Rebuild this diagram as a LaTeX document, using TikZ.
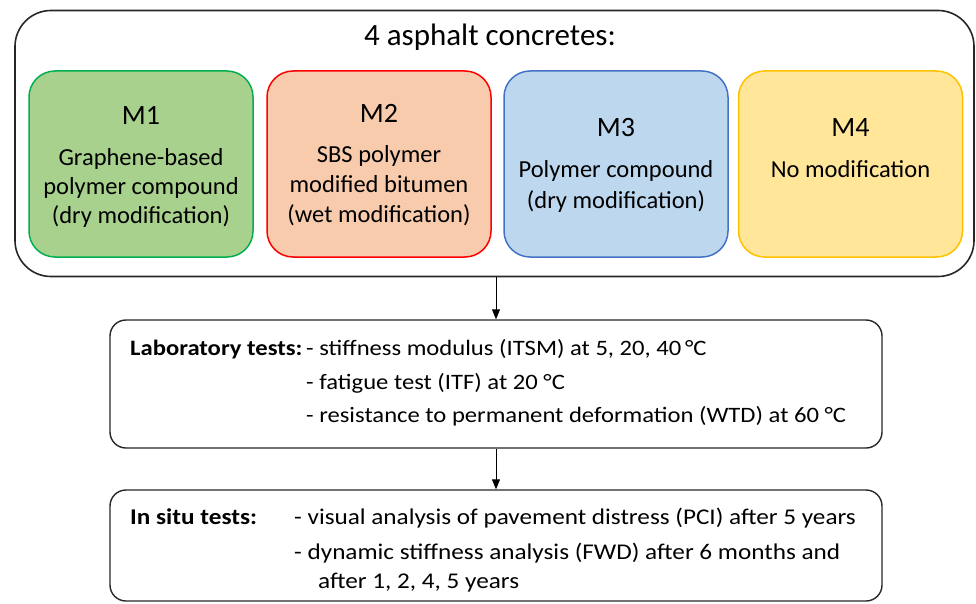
\documentclass[tikz,border=0pt]{standalone}
\usepackage{fontspec}
\setmainfont{Carlito}
\newfontfamily\labfont{Carlito}[FakeStretch=1.12]
\usetikzlibrary{arrows.meta}
\definecolor{gfill}{HTML}{A9D18E}\definecolor{gline}{HTML}{00B050}
\definecolor{rfill}{HTML}{F8CBAD}\definecolor{rline}{HTML}{FF0000}
\definecolor{bfill}{HTML}{BDD7EE}\definecolor{bline}{HTML}{4472C4}
\definecolor{yfill}{HTML}{FFE699}\definecolor{yline}{HTML}{FFC000}
\definecolor{frame}{HTML}{262626}
\begin{document}
\begin{tikzpicture}[x=1pt,y=-1pt,
  outerbox/.style={draw=frame,line width=1.6pt,rounded corners=36pt,inner sep=0pt,minimum width=959pt,minimum height=266pt},
  testbox/.style={draw=frame,line width=1.4pt,rounded corners=16pt,inner sep=0pt,minimum width=772pt},
  mbox/.style={line width=1.5pt,rounded corners=26pt,inner sep=0pt,minimum width=224pt,minimum height=186pt},
  mlabel/.style={anchor=base,inner sep=0pt,font=\fontsize{28}{32}\selectfont},
  mtext/.style={anchor=base,inner sep=0pt,font=\fontsize{24.5}{29}\selectfont},
  ttext/.style={anchor=base west,inner sep=0pt,font=\labfont\fontsize{22}{26}\selectfont},
  stext/.style={anchor=base west,inner sep=0pt,font=\labfont\fontsize{22.5}{26}\selectfont},
  conn/.style={draw=black,line width=0.9pt,-{Triangle[length=10pt,width=8pt]}}
]
\useasboundingbox (0,0) rectangle (976,604);
% outer box
\node[outerbox] (outer) at (494.5,143.5) {};
\node[anchor=base,inner sep=0pt,font=\fontsize{31}{36}\selectfont] (title) at (490,46) {4 asphalt concretes:};
% M boxes
\node[mbox,draw=gline,fill=gfill] (m1) at (141,164) {};
\node[mbox,draw=rline,fill=rfill] (m2) at (379,164) {};
\node[mbox,draw=bline,fill=bfill] (m3) at (616,164) {};
\node[mbox,draw=yline,fill=yfill] (m4) at (850.5,164) {};
% M texts
\node[mlabel] (m1l) at (141,125) {M1};
\node[mtext] (m1a) at (141,166) {Graphene-based};
\node[mtext] (m1b) at (141,194) {polymer compound};
\node[mtext] (m1c) at (141,223) {(dry modification)};
\node[mlabel] (m2l) at (379,123) {M2};
\node[mtext] (m2a) at (379,163) {SBS polymer};
\node[mtext] (m2b) at (379,192) {modified bitumen};
\node[mtext] (m2c) at (379,222) {(wet modification)};
\node[mlabel] (m3l) at (616,137) {M3};
\node[mtext] (m3a) at (616,178) {Polymer compound};
\node[mtext] (m3b) at (616,208) {(dry modification)};
\node[mlabel] (m4l) at (850.5,137) {M4};
\node[mtext] (m4a) at (850.5,178) {No modification};
% laboratory box
\node[testbox,minimum height=128pt] (lab) at (496,384) {};
\node[ttext] (labh) at (130,355) {\textbf{Laboratory tests:}};
\node[ttext] (lab1) at (306,355) {- stiffness modulus (ITSM) at 5, 20, 40\,°C};
\node[ttext] (lab2) at (306,389) {- fatigue test (ITF) at 20 °C};
\node[ttext] (lab3) at (306,422) {- resistance to permanent deformation (WTD) at 60 °C};
% in situ box
\node[testbox,minimum height=111pt] (situ) at (496,545.5) {};
\node[stext] (situh) at (130,524) {\textbf{In situ tests:}};
\node[stext] (situ1) at (294,524) {- visual analysis of pavement distress (PCI) after 5 years};
\node[stext] (situ2) at (294,559) {- dynamic stiffness analysis (FWD) after 6 months and};
\node[stext] (situ3) at (318,588) {after 1, 2, 4, 5 years};
% connectors
\draw[conn] (lab.north |- outer.south) -- (lab.north);
\draw[conn] (lab.south) -- (situ.north);
\end{tikzpicture}
\end{document}
